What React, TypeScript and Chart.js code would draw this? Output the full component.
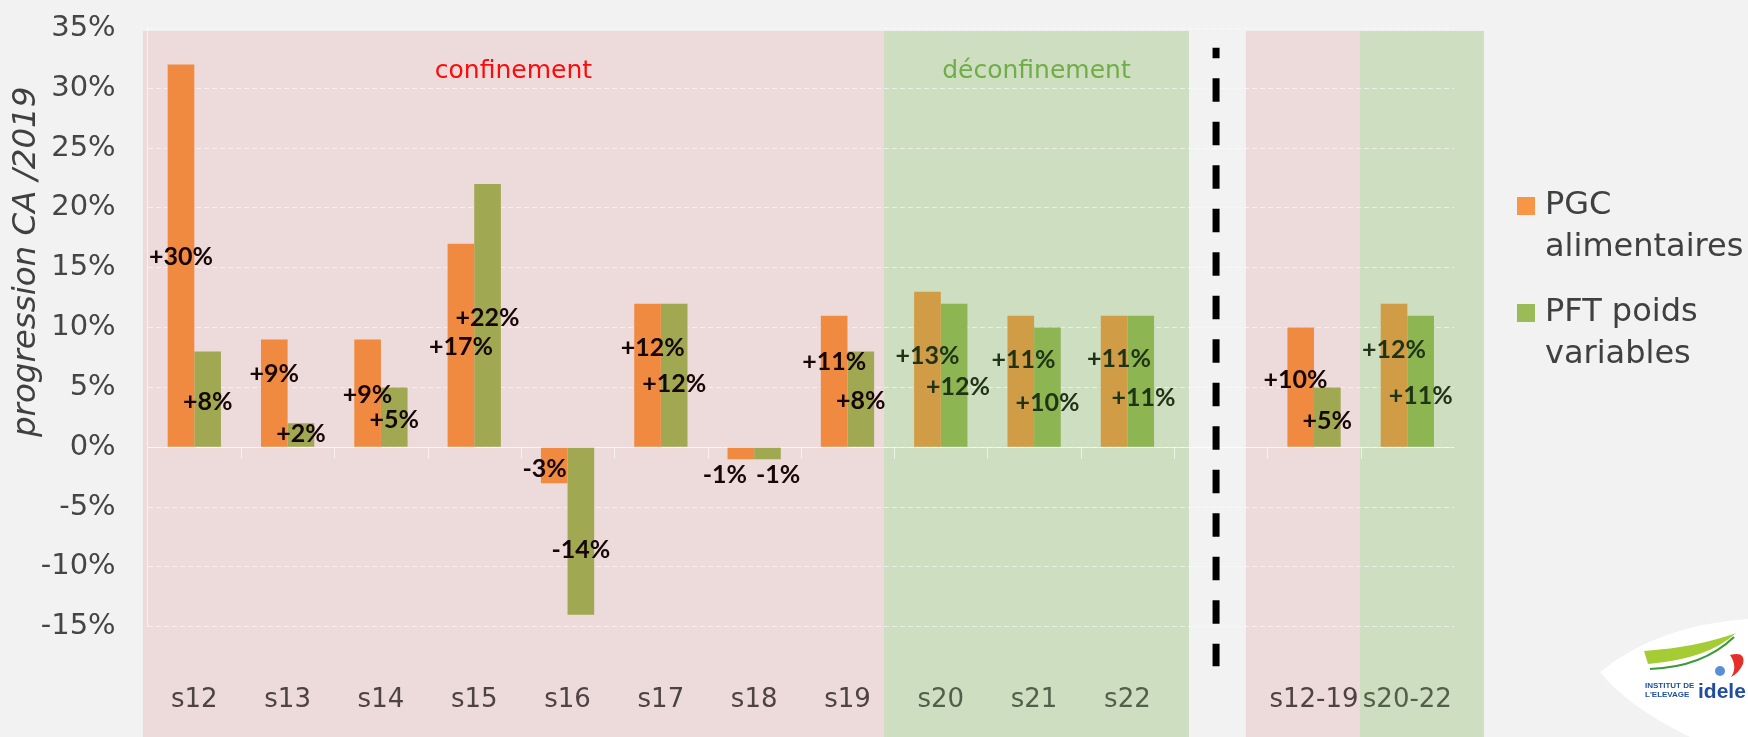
import React, { useEffect, useRef } from "react";
import { Chart, registerables } from "chart.js";

Chart.register(...registerables);

// ---------- data ----------
const categories = ["s12", "s13", "s14", "s15", "s16", "s17", "s18", "s19", "s20", "s21", "s22", "", "s12-19", "s20-22"];
const pgcValues = [32, 9, 9, 17, -3, 12, -1, 11, 13, 11, 11, null, 10, 12];
const pftValues = [8, 2, 5, 22, -14, 12, -1, 8, 12, 10, 11, null, 5, 11];
const pgcLabels = ["+30%", "+9%", "+9%", "+17%", "-3%", "+12%", "-1%", "+11%", "+13%", "+11%", "+11%", "", "+10%", "+12%"];
const pftLabels = ["+8%", "+2%", "+5%", "+22%", "-14%", "+12%", "-1%", "+8%", "+12%", "+10%", "+11%", "", "+5%", "+11%"];
const yTickValues = [35, 30, 25, 20, 15, 10, 5, 0, -5, -10, -15];
const seriesNames = ["PGC alimentaires", "PFT poids variables"];
const legendLines = [["PGC", "alimentaires"], ["PFT poids", "variables"]];
const axisTitle = "progression CA /2019";

// label anchors (value units) and horizontal shift (in bar widths)
const pgcLabelAt = [15.9, 6.1, 4.4, 8.4, -1.8, 8.3, -2.3, 7.1, 7.6, 7.3, 7.4, null, 5.6, 8.1];
const pftLabelAt = [3.8, 1.1, 2.3, 10.8, -8.6, 5.3, -2.3, 3.9, 5.0, 3.7, 4.1, null, 2.2, 4.3];
const pgcLabelShift = [0, 0, 0, 0, -0.36, 0.2, -0.6, 0, 0, 0.1, 0.18, 0, -0.2, 0];
const pftLabelShift = [0, 0, 0, 0, 0, 0, 0.4, 0, 0.15, 0, 0.1, 0, 0, 0];

// shaded periods in category units
const bands = [
  { from: -0.55, to: 7.39, kind: "conf", title: "confinement" },
  { from: 7.39, to: 10.66, kind: "deconf", title: "déconfinement" },
  { from: 11.27, to: 12.49, kind: "conf", title: "" },
  { from: 12.49, to: 13.82, kind: "deconf", title: "" },
];
const separatorAt = 10.95;

// ---------- styles ----------
const PAGE_BG = "#f2f2f2";
const STYLE: Record<string, any> = {
  conf: { bg: "#eddadb", orange: "#f08a40", green: "#a0a852", label: "#160606", tick: "#4d4343", title: "#ff0a0a" },
  deconf: { bg: "#cedec0", orange: "#d09c46", green: "#8db552", label: "#1f3316", tick: "#535f4b", title: "#70ad47" },
  none: { bg: PAGE_BG, orange: "#f79646", green: "#9bbb59", label: "#000", tick: "#404040", title: "#000" },
};
const FONT = "'DejaVu Sans', sans-serif";
const LABEL_FONT = "Lato, 'DejaVu Sans', sans-serif";

function regionOf(i: number) {
  const b = bands.find((b) => i >= b.from && i <= b.to);
  return b ? b.kind : "none";
}

function catPx(chart: any, u: number) {
  const xs = chart.scales.x;
  const p0 = xs.getPixelForValue(0);
  const p1 = xs.getPixelForValue(1);
  return p0 + u * (p1 - p0);
}

const decorPlugin = {
  id: "decor",
  beforeDraw(chart: any) {
    const { ctx, width, height } = chart;
    const ys = chart.scales.y;
    ctx.save();
    ctx.fillStyle = PAGE_BG;
    ctx.fillRect(0, 0, width, height);
    const top = ys.getPixelForValue(34.8);
    bands.forEach((b) => {
      const x1 = catPx(chart, b.from);
      const x2 = catPx(chart, b.to);
      ctx.fillStyle = STYLE[b.kind].bg;
      ctx.fillRect(x1, top, x2 - x1, height - top);
    });
    ctx.restore();
  },
  beforeDatasetsDraw(chart: any) {
    const { ctx, chartArea } = chart;
    const ys = chart.scales.y;
    const y0 = Math.round(ys.getPixelForValue(0)) + 0.5;
    ctx.save();
    ctx.strokeStyle = "rgba(255,255,255,0.6)";
    ctx.lineWidth = 1;
    ctx.beginPath();
    ctx.moveTo(chartArea.left, y0);
    ctx.lineTo(chartArea.right, y0);
    for (let k = 1; k < categories.length; k++) {
      const x = Math.round(catPx(chart, k - 0.5)) + 0.5;
      ctx.moveTo(x, y0);
      ctx.lineTo(x, y0 + 11);
    }
    ctx.stroke();
    ctx.restore();
  },
  afterDatasetsDraw(chart: any) {
    const { ctx } = chart;
    const ys = chart.scales.y;
    ctx.save();
    // data labels
    ctx.font = `bold 25px ${LABEL_FONT}`;
    ctx.textAlign = "center";
    ctx.textBaseline = "middle";
    const sets = [
      { labels: pgcLabels, at: pgcLabelAt, shift: pgcLabelShift },
      { labels: pftLabels, at: pftLabelAt, shift: pftLabelShift },
    ];
    sets.forEach((s, di) => {
      const meta = chart.getDatasetMeta(di);
      meta.data.forEach((bar: any, i: number) => {
        const at = s.at[i];
        if (at === null || !s.labels[i]) return;
        ctx.fillStyle = STYLE[regionOf(i)].label;
        const x = bar.x + s.shift[i] * bar.width;
        ctx.fillText(s.labels[i], x, ys.getPixelForValue(at));
      });
    });
    // band titles
    ctx.font = `25px ${FONT}`;
    bands.forEach((b) => {
      if (!b.title) return;
      ctx.fillStyle = STYLE[b.kind].title;
      ctx.fillText(b.title, (catPx(chart, b.from) + catPx(chart, b.to)) / 2, ys.getPixelForValue(31.4));
    });
    // dashed separator
    const sx = catPx(chart, separatorAt);
    ctx.strokeStyle = "#000";
    ctx.lineWidth = 7;
    ctx.setLineDash([23.5, 20]);
    ctx.lineDashOffset = 13;
    ctx.beginPath();
    ctx.moveTo(sx, ys.getPixelForValue(33.4));
    ctx.lineTo(sx, ys.getPixelForValue(-18.3));
    ctx.stroke();
    ctx.setLineDash([]);
    ctx.restore();
  },
  afterDraw(chart: any) {
    const { ctx, chartArea, width, height } = chart;
    ctx.save();
    // y axis title
    ctx.translate(27, chartArea.top + (chartArea.bottom - chartArea.top) * 0.39);
    ctx.rotate(-Math.PI / 2);
    ctx.font = `italic 32.5px ${FONT}`;
    ctx.fillStyle = "#404040";
    ctx.textAlign = "center";
    ctx.textBaseline = "middle";
    ctx.fillText(axisTitle, 0, 0);
    ctx.restore();

    // legend
    ctx.save();
    const lx = chartArea.right + 63;
    const colors = [STYLE.none.orange, STYLE.none.green];
    const ly = [206, 313];
    ctx.font = `32px ${FONT}`;
    ctx.textAlign = "left";
    ctx.textBaseline = "middle";
    legendLines.forEach((lines, k) => {
      ctx.fillStyle = colors[k];
      ctx.fillRect(lx, ly[k] - 9, 18, 18);
      ctx.fillStyle = "#404040";
      lines.forEach((t, j) => ctx.fillText(t, lx + 28, ly[k] + j * 42));
    });
    ctx.restore();

    // logo
    ctx.save();
    ctx.fillStyle = "#ffffff";
    ctx.beginPath();
    ctx.moveTo(width - 148, height - 65);
    ctx.quadraticCurveTo(width - 90, height - 112, width, height - 118);
    ctx.lineTo(width, height);
    ctx.lineTo(width - 58, height);
    ctx.quadraticCurveTo(width - 120, height - 30, width - 148, height - 65);
    ctx.fill();
    ctx.fillStyle = "#a6cc35";
    ctx.beginPath();
    ctx.moveTo(width - 104, height - 86);
    ctx.quadraticCurveTo(width - 50, height - 90, width - 12, height - 104);
    ctx.quadraticCurveTo(width - 40, height - 78, width - 100, height - 73);
    ctx.closePath();
    ctx.fill();
    ctx.strokeStyle = "#3a9a3a";
    ctx.lineWidth = 2;
    ctx.beginPath();
    ctx.moveTo(width - 98, height - 68);
    ctx.quadraticCurveTo(width - 45, height - 70, width - 14, height - 100);
    ctx.stroke();
    ctx.fillStyle = "#5b8fd3";
    ctx.beginPath();
    ctx.arc(width - 28, height - 66, 5, 0, Math.PI * 2);
    ctx.fill();
    ctx.fillStyle = "#e3312a";
    ctx.beginPath();
    ctx.moveTo(width - 18, height - 82);
    ctx.quadraticCurveTo(width - 2, height - 86, width - 5, height - 73);
    ctx.quadraticCurveTo(width - 9, height - 64, width - 17, height - 60);
    ctx.quadraticCurveTo(width - 10, height - 70, width - 18, height - 82);
    ctx.fill();
    ctx.fillStyle = "#1f4e9e";
    ctx.font = `bold 8px 'Liberation Sans', sans-serif`;
    ctx.textAlign = "left";
    ctx.textBaseline = "alphabetic";
    ctx.fillText("INSTITUT DE", width - 103, height - 49);
    ctx.fillText("L'ELEVAGE", width - 103, height - 40);
    ctx.font = `bold 21px 'Liberation Sans', sans-serif`;
    ctx.fillText("idele", width - 50, height - 39);
    ctx.restore();
  },
};

export default function App() {
  const ref = useRef<HTMLCanvasElement>(null);
  useEffect(() => {
    document.body.style.margin = "0";
    document.body.style.background = PAGE_BG;
    const canvas = ref.current!;
    const pgcColors = categories.map((_, i) => STYLE[regionOf(i)].orange);
    const pftColors = categories.map((_, i) => STYLE[regionOf(i)].green);
    const chart = new Chart(canvas, {
      type: "bar",
      data: {
        labels: categories,
        datasets: [
          { label: seriesNames[0], data: pgcValues as any, backgroundColor: pgcColors, borderWidth: 0 },
          { label: seriesNames[1], data: pftValues as any, backgroundColor: pftColors, borderWidth: 0 },
        ],
      },
      options: {
        responsive: false,
        animation: false,
        devicePixelRatio: 1,
        layout: { padding: { top: 28.5, right: 294, left: 0, bottom: 0 } },
        datasets: { bar: { categoryPercentage: 0.571, barPercentage: 1.0 } },
        plugins: { legend: { display: false }, tooltip: { enabled: false }, title: { display: false } },
        scales: {
          x: {
            grid: { display: false },
            border: { display: false },
            ticks: {
              padding: 50,
              font: { family: FONT, size: 26 },
              color: (c: any) => STYLE[regionOf(c.index)].tick,
              maxRotation: 0,
              autoSkip: false,
            },
            afterFit: (s: any) => {
              s.height = 110.3;
              s.paddingLeft = 0;
              s.paddingRight = 0;
            },
          },
          y: {
            min: -15,
            max: 35,
            afterBuildTicks: (s: any) => {
              s.ticks = yTickValues.map((v) => ({ value: v }));
            },
            ticks: {
              padding: 32,
              font: { family: FONT, size: 29 },
              color: "#454545",
              callback: (v: any) => `${v}%`,
            },
            grid: { color: "rgba(255,255,255,0.55)", lineWidth: 1, drawTicks: false },
            border: { display: true, color: "rgba(255,255,255,0.6)", dash: [5, 3] },
            afterFit: (s: any) => {
              s.width = 147.65;
              s.paddingTop = 0;
              s.paddingBottom = 0;
            },
          },
        },
      },
      plugins: [decorPlugin],
    });
    return () => chart.destroy();
  }, []);
  return (
    <div style={{ width: 1748, height: 737, background: PAGE_BG }}>
      <canvas ref={ref} width={1748} height={737} style={{ display: "block", width: 1748, height: 737 }} />
    </div>
  );
}
